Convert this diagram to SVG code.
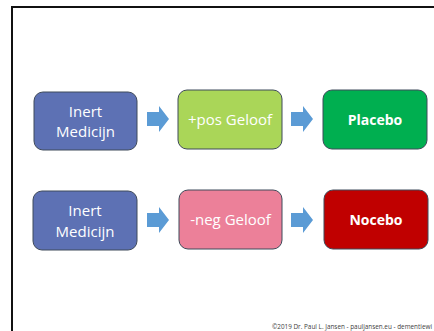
<svg xmlns="http://www.w3.org/2000/svg" width="434" height="331" viewBox="0 0 434 331">
  <defs>
    <style>
      .box { stroke: #3f4a5a; stroke-width: 1; }
      .label { font-family: "Open Sans", "Liberation Sans", sans-serif; font-size: 15px; fill: #ffffff; text-anchor: middle; }
      .bold { font-weight: bold; font-size: 14px; }
      .arrow { fill: #5b9bd5; }
      .footer { font-family: "Open Sans", "Liberation Sans", sans-serif; font-size: 6.4px; fill: #404040; }
    </style>
    <path id="blockArrow" d="M0,6 H12 V0 L22,13 L12,26 V20 H0 Z"/>
  </defs>

  <rect width="434" height="331" fill="#ffffff"/>

  <!-- slide frame -->
  <path d="M12,331 V7 H434" fill="none" stroke="#111111" stroke-width="2"/>

  <!-- top row -->
  <g id="inert-medicijn-1">
    <rect class="box" x="34" y="92" width="103" height="58" rx="9" fill="#5d71b4"/>
    <text class="label" x="85.5" y="117">Inert</text>
    <text class="label" x="85.5" y="137">Medicijn</text>
  </g>
  <g id="pos-geloof">
    <rect class="box" x="178" y="90" width="104" height="59" rx="9" fill="#aad658"/>
    <text class="label" x="230" y="125">+pos Geloof</text>
  </g>
  <g id="placebo">
    <rect class="box" x="323" y="90" width="104" height="59" rx="9" fill="#00af50"/>
    <text class="label bold" x="375" y="125">Placebo</text>
  </g>

  <!-- bottom row -->
  <g id="inert-medicijn-2">
    <rect class="box" x="33" y="191" width="104" height="59" rx="9" fill="#5d71b4"/>
    <text class="label" x="85" y="216">Inert</text>
    <text class="label" x="85" y="237">Medicijn</text>
  </g>
  <g id="neg-geloof">
    <rect class="box" x="179" y="190" width="103" height="59" rx="9" fill="#ec8099"/>
    <text class="label" x="230.5" y="225">-neg Geloof</text>
  </g>
  <g id="nocebo">
    <rect class="box" x="324" y="190" width="104" height="59" rx="9" fill="#c00000"/>
    <text class="label bold" x="376" y="225">Nocebo</text>
  </g>

  <!-- connectors -->
  <g id="connectors" class="arrow">
    <use href="#blockArrow" x="147" y="106"/>
    <use href="#blockArrow" x="291" y="106"/>
    <use href="#blockArrow" x="147" y="207"/>
    <use href="#blockArrow" x="291" y="207"/>
  </g>

  <text class="footer" x="272" y="329" textLength="160" lengthAdjust="spacingAndGlyphs">©2019 Dr. Paul L. Jansen - pauljansen.eu - dementiewi</text>
</svg>
